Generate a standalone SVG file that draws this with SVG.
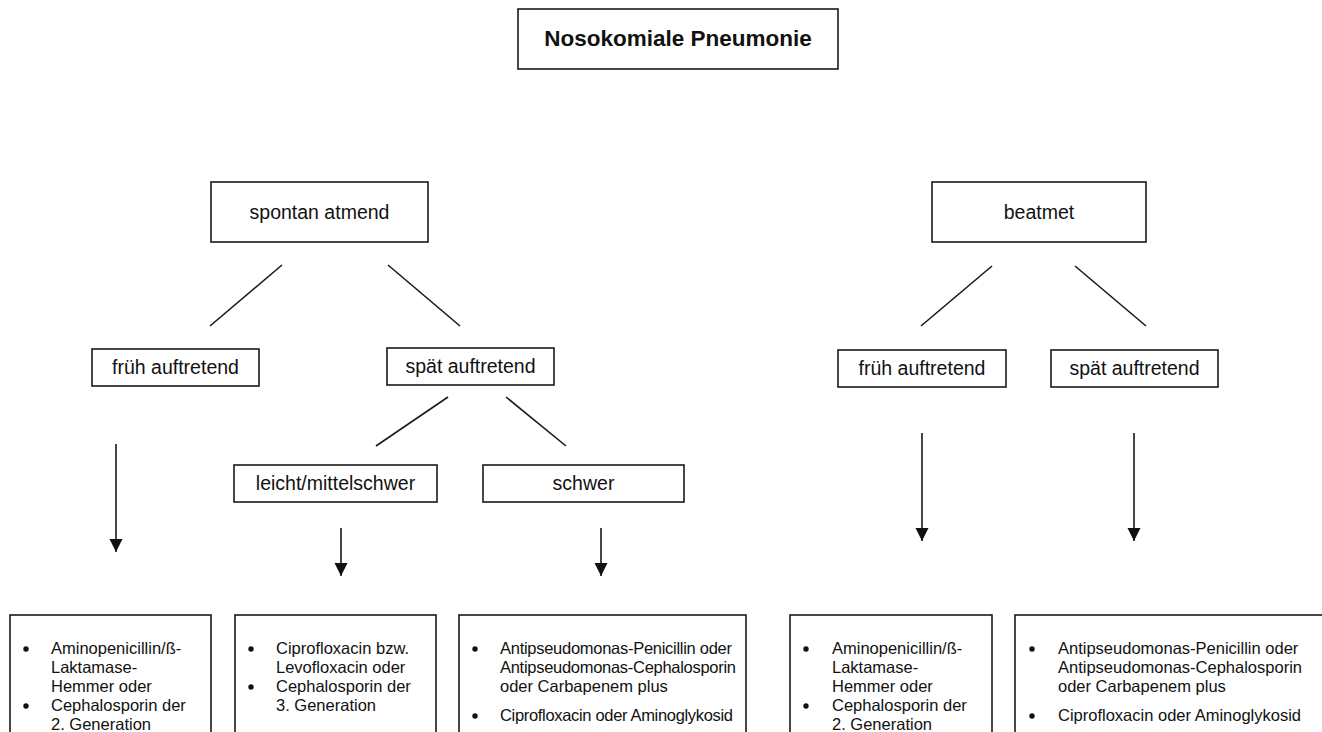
<svg xmlns="http://www.w3.org/2000/svg" width="1322" height="732" viewBox="0 0 1322 732">
  <defs>
    <style>
      .box { fill: #ffffff; stroke: #1a1a1a; stroke-width: 1.6; }
      .lbl { font-family: "Liberation Sans", Arial, sans-serif; font-size: 19.5px; fill: #111; text-anchor: middle; }
      .ttl { font-family: "Liberation Sans", Arial, sans-serif; font-size: 22.5px; font-weight: bold; fill: #111; text-anchor: middle; }
      .li { font-family: "Liberation Sans", Arial, sans-serif; font-size: 16.5px; fill: #111; }
      .conn { stroke: #1a1a1a; stroke-width: 1.6; fill: none; }
      .dot { fill: #111; }
    </style>
    <marker id="arr" markerWidth="14" markerHeight="14" refX="13" refY="6.5" orient="auto" markerUnits="userSpaceOnUse">
      <path d="M0,0 L13,6.5 L0,13 Z" fill="#111"/>
    </marker>
  </defs>
  <rect width="1322" height="732" fill="#ffffff"/>

  <g id="connectors">
    <line class="conn" x1="282" y1="265" x2="210" y2="326"/>
    <line class="conn" x1="388" y1="265" x2="460" y2="326"/>
    <line class="conn" x1="448" y1="397" x2="376" y2="446"/>
    <line class="conn" x1="506" y1="397" x2="566" y2="446"/>
    <line class="conn" x1="992" y1="266" x2="921" y2="326"/>
    <line class="conn" x1="1075" y1="266" x2="1146" y2="326"/>
    <line class="conn" x1="116" y1="444" x2="116" y2="552" marker-end="url(#arr)"/>
    <line class="conn" x1="341" y1="528" x2="341" y2="576" marker-end="url(#arr)"/>
    <line class="conn" x1="601" y1="528" x2="601" y2="576" marker-end="url(#arr)"/>
    <line class="conn" x1="922" y1="433" x2="922" y2="541" marker-end="url(#arr)"/>
    <line class="conn" x1="1134" y1="433" x2="1134" y2="541" marker-end="url(#arr)"/>
  </g>

  <g id="title">
    <rect class="box" x="518" y="9" width="320" height="60"/>
    <text class="ttl" x="678" y="46">Nosokomiale Pneumonie</text>
  </g>

  <g id="spontan">
    <rect class="box" x="211" y="182" width="217" height="60"/>
    <text class="lbl" x="319.5" y="219">spontan atmend</text>
  </g>
  <g id="beatmet">
    <rect class="box" x="932" y="182" width="214" height="60"/>
    <text class="lbl" x="1039" y="219">beatmet</text>
  </g>

  <g id="frueh-l">
    <rect class="box" x="92" y="349" width="167" height="37"/>
    <text class="lbl" x="175.5" y="374">früh auftretend</text>
  </g>
  <g id="spaet-l">
    <rect class="box" x="387" y="348" width="167" height="37"/>
    <text class="lbl" x="470.5" y="373">spät auftretend</text>
  </g>
  <g id="frueh-r">
    <rect class="box" x="838" y="350" width="168" height="37"/>
    <text class="lbl" x="922" y="375">früh auftretend</text>
  </g>
  <g id="spaet-r">
    <rect class="box" x="1051" y="350" width="167" height="37"/>
    <text class="lbl" x="1134.5" y="375">spät auftretend</text>
  </g>

  <g id="leicht">
    <rect class="box" x="234" y="465" width="203" height="37"/>
    <text class="lbl" x="335.5" y="490">leicht/mittelschwer</text>
  </g>
  <g id="schwer">
    <rect class="box" x="483" y="465" width="201" height="37"/>
    <text class="lbl" x="583.5" y="490">schwer</text>
  </g>

  <g id="therapie-1">
    <rect class="box" x="10" y="615" width="201" height="135"/>
    <circle class="dot" cx="26" cy="649" r="2.7"/>
    <circle class="dot" cx="26" cy="706" r="2.7"/>
    <text class="li" x="51" y="654">Aminopenicillin/ß-</text>
    <text class="li" x="51" y="673">Laktamase-</text>
    <text class="li" x="51" y="692">Hemmer oder</text>
    <text class="li" x="51" y="711">Cephalosporin der</text>
    <text class="li" x="51" y="730">2. Generation</text>
  </g>
  <g id="therapie-2">
    <rect class="box" x="235" y="615" width="201" height="135"/>
    <circle class="dot" cx="251" cy="649" r="2.7"/>
    <circle class="dot" cx="251" cy="687" r="2.7"/>
    <text class="li" x="276" y="654">Ciprofloxacin bzw.</text>
    <text class="li" x="276" y="673">Levofloxacin oder</text>
    <text class="li" x="276" y="692">Cephalosporin der</text>
    <text class="li" x="276" y="711">3. Generation</text>
  </g>
  <g id="therapie-3">
    <rect class="box" x="459" y="615" width="287" height="135"/>
    <circle class="dot" cx="475" cy="649" r="2.7"/>
    <circle class="dot" cx="475" cy="716" r="2.7"/>
    <text class="li" x="500" y="654" textLength="232">Antipseudomonas-Penicillin oder</text>
    <text class="li" x="500" y="673" textLength="236">Antipseudomonas-Cephalosporin</text>
    <text class="li" x="500" y="692">oder Carbapenem plus</text>
    <text class="li" x="500" y="721" textLength="233">Ciprofloxacin oder Aminoglykosid</text>
  </g>
  <g id="therapie-4">
    <rect class="box" x="790" y="615" width="202" height="135"/>
    <circle class="dot" cx="806" cy="649" r="2.7"/>
    <circle class="dot" cx="806" cy="706" r="2.7"/>
    <text class="li" x="832" y="654">Aminopenicillin/ß-</text>
    <text class="li" x="832" y="673">Laktamase-</text>
    <text class="li" x="832" y="692">Hemmer oder</text>
    <text class="li" x="832" y="711">Cephalosporin der</text>
    <text class="li" x="832" y="730">2. Generation</text>
  </g>
  <g id="therapie-5">
    <rect class="box" x="1015" y="615" width="320" height="135"/>
    <circle class="dot" cx="1032" cy="649" r="2.7"/>
    <circle class="dot" cx="1032" cy="716" r="2.7"/>
    <text class="li" x="1058" y="654">Antipseudomonas-Penicillin oder</text>
    <text class="li" x="1058" y="673">Antipseudomonas-Cephalosporin</text>
    <text class="li" x="1058" y="692">oder Carbapenem plus</text>
    <text class="li" x="1058" y="721">Ciprofloxacin oder Aminoglykosid</text>
  </g>
</svg>
